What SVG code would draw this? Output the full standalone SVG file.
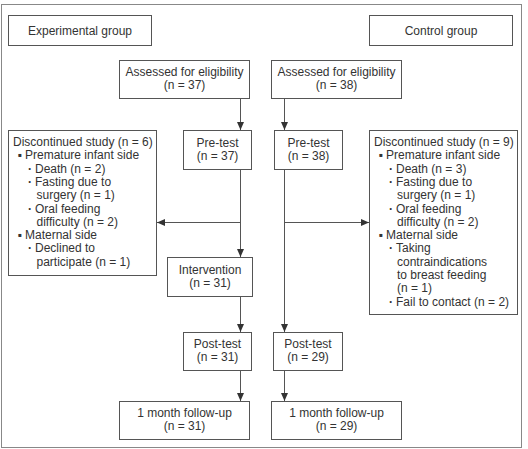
<svg xmlns="http://www.w3.org/2000/svg" width="528" height="449" viewBox="0 0 528 449">
<defs>
<style>
.box{fill:#fff;stroke:#555;stroke-width:1}
.t{font-family:"Liberation Sans",Arial,sans-serif;font-size:12px;fill:#333}
.c{text-anchor:middle}
.d{font-weight:bold}
.ln{stroke:#555;stroke-width:1;fill:none}
</style>
<marker id="ah" viewBox="0 0 8 8" refX="8" refY="4" markerWidth="8" markerHeight="8" markerUnits="userSpaceOnUse" orient="auto">
<path d="M0,0.5 L8,4 L0,7.5 Z" fill="#333"/>
</marker>
</defs>
<rect x="0" y="0" width="528" height="449" fill="#fff"/>
<rect x="1.5" y="4.5" width="520" height="443" fill="none" stroke="#888" stroke-width="1"/>

<g id="exp-group"><rect class="box" x="8.5" y="15.5" width="143" height="30"/><text class="t c" x="80" y="34.5">Experimental group</text></g>
<g id="ctrl-group"><rect class="box" x="369.5" y="15.5" width="143" height="30"/><text class="t c" x="441" y="34.5">Control group</text></g>

<g id="assess-exp"><rect class="box" x="119.5" y="60.5" width="130" height="38"/><text class="t c" x="184.5" y="76">Assessed for eligibility</text><text class="t c" x="184.5" y="89.3">(n = 37)</text></g>
<g id="assess-ctrl"><rect class="box" x="271.5" y="60.5" width="130" height="38"/><text class="t c" x="336.5" y="76">Assessed for eligibility</text><text class="t c" x="336.5" y="89.3">(n = 38)</text></g>

<g id="pre-exp"><rect class="box" x="183.5" y="130.5" width="68" height="39"/><text class="t c" x="217.5" y="146.5">Pre-test</text><text class="t c" x="217.5" y="159.8">(n = 37)</text></g>
<g id="pre-ctrl"><rect class="box" x="274.5" y="130.5" width="68" height="39"/><text class="t c" x="308.5" y="146.5">Pre-test</text><text class="t c" x="308.5" y="159.8">(n = 38)</text></g>

<g id="disc-exp"><rect class="box" x="8.5" y="130.5" width="148" height="145"/>
<text class="t"><tspan x="13" y="146">Discontinued study (n = 6)</tspan><tspan x="17.5" y="159.3">▪</tspan><tspan x="25" y="159.3">Premature infant side</tspan><tspan class="d" x="28" y="172.6">·</tspan><tspan x="35" y="172.6">Death (n = 2)</tspan><tspan class="d" x="28" y="185.9">·</tspan><tspan x="35" y="185.9">Fasting due to</tspan><tspan x="36.5" y="199.2">surgery (n = 1)</tspan><tspan class="d" x="28" y="212.5">·</tspan><tspan x="35" y="212.5">Oral feeding</tspan><tspan x="36.5" y="225.8">difficulty (n = 2)</tspan><tspan x="17.5" y="239.1">▪</tspan><tspan x="25" y="239.1">Maternal side</tspan><tspan class="d" x="28" y="252.4">·</tspan><tspan x="35" y="252.4">Declined to</tspan><tspan x="36.5" y="265.7">participate (n = 1)</tspan></text></g>

<g id="disc-ctrl"><rect class="box" x="369.5" y="130.5" width="148" height="184"/>
<text class="t"><tspan x="374" y="146">Discontinued study (n = 9)</tspan><tspan x="378.5" y="159.3">▪</tspan><tspan x="386" y="159.3">Premature infant side</tspan><tspan class="d" x="389" y="172.6">·</tspan><tspan x="396" y="172.6">Death (n = 3)</tspan><tspan class="d" x="389" y="185.9">·</tspan><tspan x="396" y="185.9">Fasting due to</tspan><tspan x="397" y="199.2">surgery (n = 1)</tspan><tspan class="d" x="389" y="212.5">·</tspan><tspan x="396" y="212.5">Oral feeding</tspan><tspan x="397" y="225.8">difficulty (n = 2)</tspan><tspan x="378.5" y="239.1">▪</tspan><tspan x="386" y="239.1">Maternal side</tspan><tspan class="d" x="389" y="252.4">·</tspan><tspan x="396" y="252.4">Taking</tspan><tspan x="397" y="265.7">contraindications</tspan><tspan x="397" y="279">to breast feeding</tspan><tspan x="397" y="292.3">(n = 1)</tspan><tspan class="d" x="389" y="305.6">·</tspan><tspan x="396" y="305.6">Fail to contact (n = 2)</tspan></text></g>

<g id="intervention"><rect class="box" x="167.5" y="257.5" width="85" height="39"/><text class="t c" x="210" y="273.5">Intervention</text><text class="t c" x="210" y="286.8">(n = 31)</text></g>

<g id="post-exp"><rect class="box" x="183.5" y="332.5" width="68" height="38"/><text class="t c" x="217.5" y="348">Post-test</text><text class="t c" x="217.5" y="361.3">(n = 31)</text></g>
<g id="post-ctrl"><rect class="box" x="273.5" y="332.5" width="69" height="38"/><text class="t c" x="308" y="348">Post-test</text><text class="t c" x="308" y="361.3">(n = 29)</text></g>

<g id="fu-exp"><rect class="box" x="119.5" y="401.5" width="130" height="38"/><text class="t c" x="184.5" y="417">1 month follow-up</text><text class="t c" x="184.5" y="430.3">(n = 31)</text></g>
<g id="fu-ctrl"><rect class="box" x="271.5" y="401.5" width="130" height="38"/><text class="t c" x="336.5" y="417">1 month follow-up</text><text class="t c" x="336.5" y="430.3">(n = 29)</text></g>

<g id="connectors">
<line class="ln" x1="240.5" y1="98.5" x2="240.5" y2="130" marker-end="url(#ah)"/>
<line class="ln" x1="240.5" y1="170" x2="240.5" y2="257" marker-end="url(#ah)"/>
<line class="ln" x1="240.5" y1="222.5" x2="157" y2="222.5" marker-end="url(#ah)"/>
<line class="ln" x1="240.5" y1="297" x2="240.5" y2="332" marker-end="url(#ah)"/>
<line class="ln" x1="240.5" y1="371" x2="240.5" y2="401" marker-end="url(#ah)"/>
<line class="ln" x1="284.5" y1="98.5" x2="284.5" y2="130" marker-end="url(#ah)"/>
<line class="ln" x1="284.5" y1="170" x2="284.5" y2="332" marker-end="url(#ah)"/>
<line class="ln" x1="284.5" y1="222.5" x2="369" y2="222.5" marker-end="url(#ah)"/>
<line class="ln" x1="284.5" y1="371" x2="284.5" y2="401" marker-end="url(#ah)"/>
</g>
</svg>
